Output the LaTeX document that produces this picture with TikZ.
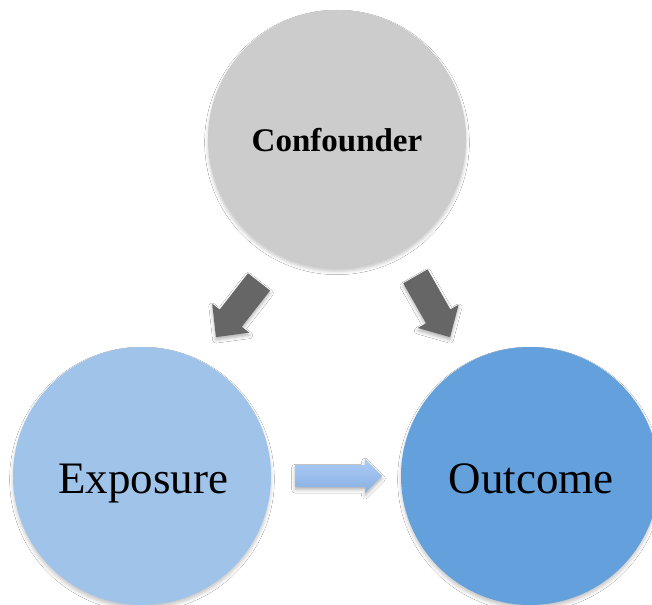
\documentclass[tikz,border=0pt]{standalone}
\usepackage{fontspec}
\setmainfont{Liberation Serif}
\usetikzlibrary{shadows.blur}
\definecolor{confgray}{RGB}{204,204,204}
\definecolor{expblue}{RGB}{159,195,233}
\definecolor{outblue}{RGB}{99,160,220}
\definecolor{arrgray}{RGB}{102,102,102}
\definecolor{arrtop}{RGB}{170,203,245}
\definecolor{arrbot}{RGB}{138,176,226}
\tikzset{
  ball/.style={circle, inner sep=0pt, minimum size=258*0.75pt,
    blur shadow={shadow xshift=0pt, shadow yshift=-2.5pt, shadow blur radius=2.5pt, shadow opacity=22}},
  bigtext/.style={anchor=base, font=\fontsize{33.75}{40}\selectfont},
  smalltext/.style={anchor=base, font=\fontsize{24.75}{30}\selectfont\bfseries},
  grayarrow/.style={fill=arrgray,
    blur shadow={shadow xshift=0pt, shadow yshift=-2pt, shadow blur radius=2.5pt, shadow opacity=30}},
  bluearrow/.style={top color=arrtop, bottom color=arrbot,
    blur shadow={shadow xshift=0pt, shadow yshift=-2pt, shadow blur radius=2.5pt, shadow opacity=30}}
}
% block arrow in local coords: length L, shaft s, head H, head length h
\newcommand{\blockarrowpath}[4]{%
  (-#1/2,-#2/2) -- (#1/2-#4,-#2/2) -- (#1/2-#4,-#3/2) -- (#1/2,0) --
  (#1/2-#4,#3/2) -- (#1/2-#4,#2/2) -- (-#1/2,#2/2) -- cycle}
\begin{document}
\begin{tikzpicture}[x=0.75pt,y=-0.75pt]
  \useasboundingbox (0,0) rectangle (652,605);
  \clip (0,0) rectangle (652,605);
  \fill[white] (0,0) rectangle (652,605);
  % circles
  \node[ball, fill=confgray] (conf) at (337,139) {};
  \node[ball, fill=expblue] (expo) at (142,476) {};
  \node[ball, fill=outblue] (outc) at (530,476) {};
  \node[smalltext] (conft) at (337,152) {Confounder};
  \node[bigtext] (expot) at (143,493) {Exposure};
  \node[bigtext] (outct) at (531,493) {Outcome};
  % gray block arrows
  \begin{scope}[shift={(237.5,309.5)}, rotate=-128]
    \path[grayarrow] \blockarrowpath{70}{28}{47}{24};
  \end{scope}
  \begin{scope}[shift={(432.75,306.75)}, rotate=-60.3]
    \path[grayarrow] \blockarrowpath{70}{28}{47}{24};
  \end{scope}
  % blue block arrow
  \begin{scope}[shift={(338.5,476)}]
    \path[bluearrow] \blockarrowpath{87}{22}{34}{17};
  \end{scope}
\end{tikzpicture}
\end{document}
